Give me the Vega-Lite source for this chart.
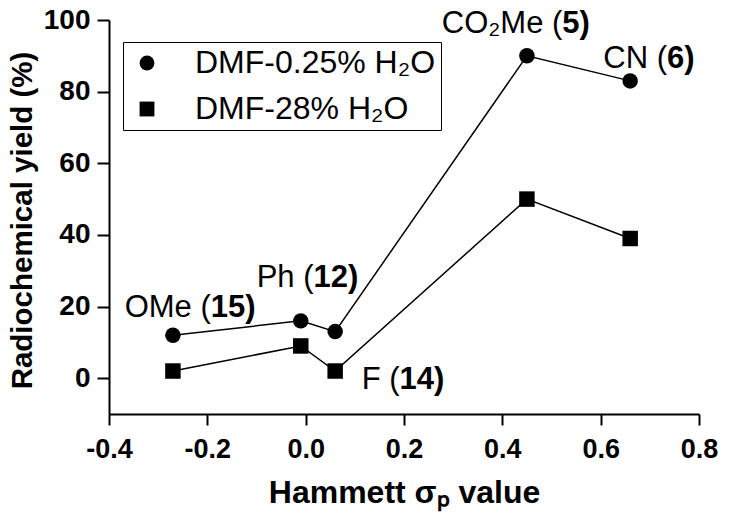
{
  "$schema": "https://vega.github.io/schema/vega-lite/v6.json",
  "width": 590,
  "height": 394,
  "autosize": {"type": "none"},
  "padding": {"left": 109, "top": 20, "right": 30, "bottom": 106},
  "background": "white",
  "config": {"view": {"stroke": null}, "font": "Liberation Sans"},
  "datasets": {
    "yields": [
      {"sigma": -0.27, "yield": 12, "series": "DMF-0.25% H₂O"},
      {"sigma": -0.01, "yield": 16, "series": "DMF-0.25% H₂O"},
      {"sigma": 0.06, "yield": 13, "series": "DMF-0.25% H₂O"},
      {"sigma": 0.45, "yield": 90, "series": "DMF-0.25% H₂O"},
      {"sigma": 0.66, "yield": 83, "series": "DMF-0.25% H₂O"},
      {"sigma": -0.27, "yield": 2, "series": "DMF-28% H₂O"},
      {"sigma": -0.01, "yield": 9, "series": "DMF-28% H₂O"},
      {"sigma": 0.06, "yield": 2, "series": "DMF-28% H₂O"},
      {"sigma": 0.45, "yield": 50, "series": "DMF-28% H₂O"},
      {"sigma": 0.66, "yield": 39, "series": "DMF-28% H₂O"}
    ],
    "labels": [
      {"name": "OMe (", "num": "15)", "lx": -0.193, "ly": 17.0},
      {"name": "Ph (", "num": "12)", "lx": 0.016, "ly": 25.5},
      {"name": "F (", "num": "14)", "lx": 0.191, "ly": -3.0},
      {"name": "CO₂Me (", "num": "5)", "lx": 0.522, "ly": 96.4},
      {"name": "CN (", "num": "6)", "lx": 0.735, "ly": 86.6}
    ]
  },
  "layer": [
    {
      "data": {"name": "yields"},
      "mark": {"type": "line", "color": "black", "strokeWidth": 1.5},
      "encoding": {
        "x": {
          "field": "sigma", "type": "quantitative",
          "scale": {"domain": [-0.4, 0.8], "nice": false, "zero": false},
          "axis": {
            "title": "Hammett σₚ value",
            "values": [-0.4, -0.2, 0, 0.2, 0.4, 0.6, 0.8],
            "labelExpr": "replace(format(datum.value, '.1f'), '−', '-')",
            "grid": false,
            "domainColor": "black", "domainWidth": 2,
            "tickColor": "black", "tickWidth": 2, "tickSize": 11,
            "labelFontSize": 27, "labelFontWeight": "bold", "labelColor": "black", "labelPadding": 11,
            "labelFlush": false, "labelOverlap": false,
            "titleFontSize": 32, "titleFontWeight": "bold", "titleColor": "black", "titlePadding": 15
          }
        },
        "y": {
          "field": "yield", "type": "quantitative",
          "scale": {"domain": [-10, 100], "nice": false, "zero": false},
          "axis": {
            "title": "Radiochemical yield (%)",
            "values": [0, 20, 40, 60, 80, 100],
            "format": "d",
            "grid": false,
            "domainColor": "black", "domainWidth": 2,
            "tickColor": "black", "tickWidth": 2, "tickSize": 12,
            "labelFontSize": 28, "labelFontWeight": "bold", "labelColor": "black", "labelPadding": 7,
            "labelFlush": false, "labelOverlap": false,
            "titleFontSize": 29.5, "titleFontWeight": "bold", "titleColor": "black", "titlePadding": 6,
            "titleY": 200
          }
        },
        "detail": {"field": "series", "type": "nominal"}
      }
    },
    {
      "data": {"name": "yields"},
      "mark": {"type": "point", "filled": true, "color": "black", "opacity": 1, "size": 240},
      "encoding": {
        "x": {"field": "sigma", "type": "quantitative"},
        "y": {"field": "yield", "type": "quantitative"},
        "shape": {
          "field": "series", "type": "nominal",
          "scale": {"domain": ["DMF-0.25% H₂O", "DMF-28% H₂O"], "range": ["circle", "square"]},
          "legend": {
            "title": null,
            "orient": "none", "legendX": 14, "legendY": 22,
            "labelFontSize": 32, "labelColor": "black", "labelLimit": 400,
            "strokeColor": "black",
            "padding": 5, "rowPadding": 14, "labelOffset": 32, "symbolOffset": 3,
            "symbolSize": 220, "symbolFillColor": "black", "symbolStrokeColor": "black", "symbolOpacity": 1
          }
        }
      }
    },
    {
      "data": {"name": "labels"},
      "mark": {"type": "text", "align": "right", "baseline": "alphabetic", "fontSize": 31, "color": "black"},
      "encoding": {
        "x": {"field": "lx", "type": "quantitative"},
        "y": {"field": "ly", "type": "quantitative"},
        "text": {"field": "name"}
      }
    },
    {
      "data": {"name": "labels"},
      "mark": {"type": "text", "align": "left", "baseline": "alphabetic", "fontSize": 31, "fontWeight": "bold", "color": "black"},
      "encoding": {
        "x": {"field": "lx", "type": "quantitative"},
        "y": {"field": "ly", "type": "quantitative"},
        "text": {"field": "num"}
      }
    }
  ]
}
